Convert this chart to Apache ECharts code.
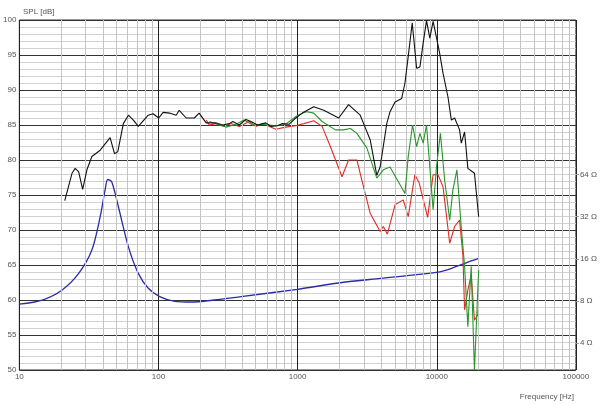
<!DOCTYPE html>
<html>
<head>
<meta charset="utf-8">
<script src="https://cdn.jsdelivr.net/npm/echarts@6/dist/echarts.min.js"></script>
<style>
  html, body { margin: 0; padding: 0; background: #fff; }
  #chart { width: 600px; height: 404px; }
</style>
</head>
<body>
<div id="chart"></div>
<script>
  // SPL curves, frequency in Hz and level in dB
  const blackFreq = [21.2, 23.9, 25.2, 26.7, 28.5, 30.6, 33.2, 38.1, 44.9, 48.3, 51, 55.9, 60.8, 66, 71.6, 84.4, 91.6, 100.4, 108, 120, 134, 141, 158, 181, 196, 220, 260, 290, 323, 342, 381, 425, 462, 515, 591, 641, 716, 778, 867, 968, 1080, 1306, 1541, 1974, 2323, 2818, 2980, 3321, 3706, 3917, 4372, 4615, 5012, 5597, 5908, 6237, 6663, 7165, 7568, 7985, 8439, 8913, 9415, 10050, 10500, 11090, 12040, 12730, 13440, 14590, 15010, 15850, 16730, 18660, 20000]
  const blackSpl = [74.2, 78.1, 78.8, 78.3, 75.8, 78.6, 80.5, 81.4, 83.2, 80.9, 81.2, 85.2, 86.4, 85.7, 84.8, 86.4, 86.6, 86.0, 86.8, 86.7, 86.4, 87.1, 86.0, 86.0, 86.7, 85.3, 85.3, 85.0, 85.2, 85.5, 85.0, 85.8, 85.5, 85.0, 85.3, 84.8, 84.9, 85.2, 85.1, 86.0, 86.7, 87.6, 87.1, 86.0, 87.9, 86.4, 85.2, 82.9, 77.8, 79.0, 85.2, 86.9, 88.3, 88.8, 91.0, 94.8, 99.6, 93.1, 93.3, 96.7, 99.9, 97.4, 99.8, 97.1, 95.2, 92.4, 89.0, 85.7, 86.0, 84.3, 82.4, 84.0, 78.8, 78.1, 71.9]

  const redFreq = [220, 232, 260, 297, 332, 381, 449, 501, 560, 697, 821, 968, 1109, 1306, 1500, 1722, 2085, 2323, 2667, 2897, 3321, 3917, 4130, 4416, 5012, 5741, 6237, 6966, 7480, 8600, 9415, 10200, 11090, 12390, 13440, 14590, 15400, 15850, 16730, 17680, 18660, 19700, 20000]
  const redSpl = [85.7, 85.0, 85.2, 84.8, 85.2, 84.8, 85.5, 84.8, 85.2, 84.4, 84.7, 84.9, 85.2, 85.6, 84.8, 81.9, 77.6, 80.0, 80.0, 77.1, 72.4, 69.8, 70.5, 69.4, 73.6, 74.3, 71.9, 77.9, 76.7, 71.8, 77.9, 77.9, 76.2, 68.1, 70.5, 71.4, 66.5, 58.6, 61.4, 63.6, 57.1, 57.9, 59.0]

  const greenFreq = [232, 274, 306, 361, 413, 475, 560, 697, 821, 968, 1109, 1172, 1306, 1500, 1868, 2143, 2393, 2667, 3147, 3706, 4130, 4615, 5908, 6237, 6698, 7165, 7568, 7985, 8439, 8913, 9415, 9950, 10620, 11400, 12390, 13050, 13960, 15010, 15850, 16730, 17680, 18660, 20000]
  const greenSpl = [85.5, 85.0, 84.7, 85.1, 85.7, 85.0, 85.1, 84.9, 85.1, 86.2, 86.8, 86.9, 86.7, 85.5, 84.3, 84.3, 84.5, 83.8, 81.7, 77.4, 78.6, 79.0, 75.2, 80.5, 85.0, 81.9, 83.8, 82.4, 85.0, 79.0, 72.9, 79.0, 83.8, 77.1, 71.4, 75.7, 78.6, 70.3, 64.8, 56.2, 64.8, 50.0, 64.3]

  // impedance curve, frequency in Hz and impedance in ohm
  const impFreq = [10, 14.6, 20.3, 26.7, 33.2, 38.1, 41.3, 43.2, 46.1, 51.5, 60.8, 71.6, 84.4, 102, 131, 172, 251, 392, 1000, 2028, 3917, 9355, 11720, 16300, 20000]
  const impOhm = [7.6, 8.13, 9.6, 12.6, 18.5, 32, 49.6, 59, 56.8, 37.7, 19.5, 12.6, 9.86, 8.6, 7.96, 7.87, 8.13, 8.6, 9.7, 10.8, 11.6, 12.7, 13.3, 15.0, 16.1]

  const ohmTicks = [4, 8, 16, 32, 64]

  // minor vertical grid at 2..9 of each decade
  const minorFreqs = []
  for (const dec of [10, 100, 1000, 10000]) {
    for (let m = 2; m <= 9; m++) minorFreqs.push(m * dec)
  }

  const zip = (xs, ys) => xs.map((x, i) => [x, ys[i]])

  const chart = echarts.init(document.getElementById('chart'))
  const labelStyle = { color: '#555', fontSize: 8, fontFamily: 'Liberation Sans, Arial, sans-serif' }
  const minorLine = { color: '#c4c4c4', width: 1, type: 'solid' }

  const option = {
    animation: false,
    title: [
      { text: 'SPL [dB]', left: 18, top: 3, textStyle: { ...labelStyle, fontWeight: 'normal' } },
      { text: 'Frequency [Hz]', right: 21, top: 388, textStyle: { ...labelStyle, fontWeight: 'normal' } }
    ],
    grid: { left: 17, right: 23, top: 20, bottom: 34, show: true, borderColor: '#333', borderWidth: 1 },
    xAxis: {
      type: 'log',
      logBase: 10,
      min: 10,
      max: 100000,
      axisLine: { show: false },
      axisTick: { show: false },
      axisLabel: { ...labelStyle, margin: 3, formatter: v => String(v) },
      splitLine: { show: true, lineStyle: { color: '#222', width: 1 } }
    },
    yAxis: [
      {
        type: 'value',
        min: 50,
        max: 100,
        interval: 5,
        axisLine: { show: false },
        axisTick: { show: false },
        axisLabel: { ...labelStyle, margin: 3 },
        splitLine: { show: true, lineStyle: { color: '#333', width: 1 } },
        minorTick: { show: false, splitNumber: 5 },
        minorSplitLine: { show: true, lineStyle: { color: '#d2d2d2', width: 1 } }
      },
      {
        type: 'log',
        logBase: 2,
        min: 2.572,
        max: 813,
        position: 'right',
        axisLine: { show: false },
        axisTick: { show: true, length: 3, customValues: ohmTicks, lineStyle: { color: '#999' } },
        axisLabel: { ...labelStyle, margin: 4, customValues: ohmTicks, formatter: v => v + ' Ω' },
        splitLine: { show: false }
      }
    ],
    series: [
      {
        type: 'line',
        data: [],
        z: 1,
        silent: true,
        markLine: {
          silent: true,
          symbol: ['none', 'none'],
          label: { show: false },
          lineStyle: minorLine,
          emphasis: { disabled: true },
          animation: false,
          data: minorFreqs.map(f => ({ xAxis: f, lineStyle: minorLine }))
        }
      },
      {
        name: 'Impedance', type: 'line', yAxisIndex: 1, showSymbol: false, smooth: 0.3,
        lineStyle: { color: '#2b2ba8', width: 1.3 }, itemStyle: { color: '#2b2ba8' },
        data: zip(impFreq, impOhm), z: 3
      },
      {
        name: 'Red', type: 'line', showSymbol: false,
        lineStyle: { color: '#e02a22', width: 1.1 }, itemStyle: { color: '#e02a22' },
        data: zip(redFreq, redSpl), z: 4
      },
      {
        name: 'Green', type: 'line', showSymbol: false,
        lineStyle: { color: '#27962a', width: 1.1 }, itemStyle: { color: '#27962a' },
        data: zip(greenFreq, greenSpl), z: 5
      },
      {
        name: 'Black', type: 'line', showSymbol: false,
        lineStyle: { color: '#111', width: 1.1 }, itemStyle: { color: '#111' },
        data: zip(blackFreq, blackSpl), z: 6
      }
    ]
  }
  chart.setOption(option)
</script>
</body>
</html>
